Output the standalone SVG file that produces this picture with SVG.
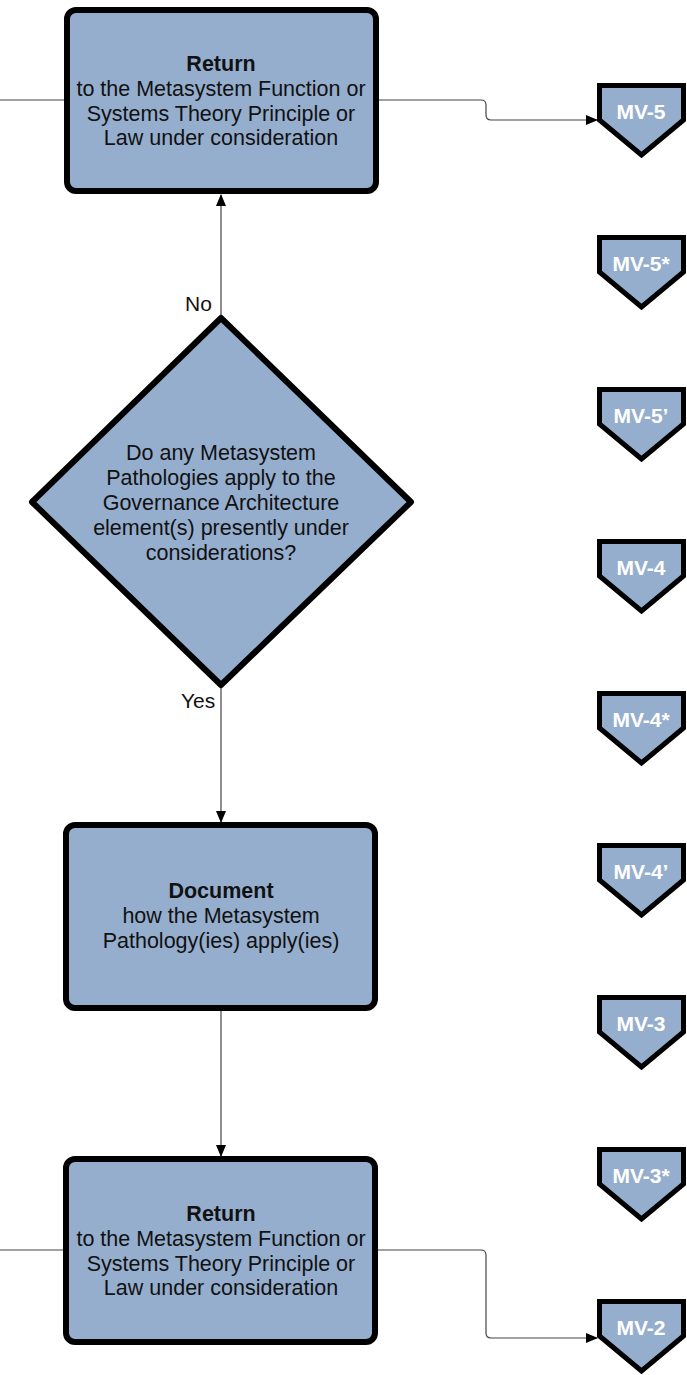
<svg xmlns="http://www.w3.org/2000/svg" width="687" height="1375" viewBox="0 0 687 1375">
<style>
.box{fill:#95AECE;stroke:#000;stroke-width:6;stroke-linejoin:round}
.pent{fill:#95AECE;stroke:#000;stroke-width:5;stroke-linejoin:miter}
.t{font-family:"Liberation Sans",Arial,sans-serif;font-size:21.5px;fill:#111;text-anchor:middle}
.b{font-weight:bold}
.mv{font-family:"Liberation Sans",Arial,sans-serif;font-size:21px;font-weight:bold;fill:#fff;text-anchor:middle}
.c{fill:none;stroke:#444;stroke-width:1.2}
.lbl{font-family:"Liberation Sans",Arial,sans-serif;font-size:21px;fill:#111}
</style>
<defs>
<marker id="ah" markerWidth="12" markerHeight="10" refX="11" refY="5" orient="auto" markerUnits="userSpaceOnUse">
<path d="M0,0 L12,5 L0,10 Z" fill="#000"/>
</marker>
</defs>
<g id="connectors">
<path class="c" d="M0,100 L64,100"/>
<path class="c" d="M379,100 L481,100 Q486,100 486,105 L486,115 Q486,120 491,120 L597,120" marker-end="url(#ah)"/>
<path class="c" d="M221,315 L221,195" marker-end="url(#ah)"/>
<path class="c" d="M221,688 L221,822" marker-end="url(#ah)"/>
<path class="c" d="M221,1011 L221,1156" marker-end="url(#ah)"/>
<path class="c" d="M0,1250 L63,1250"/>
<path class="c" d="M378,1250 L481,1250 Q486,1250 486,1255 L486,1333 Q486,1338 491,1338 L597,1338" marker-end="url(#ah)"/>
<text class="lbl" x="185" y="311">No</text>
<text class="lbl" x="181" y="708">Yes</text>
</g>
<g id="return-top">
<rect class="box" x="67" y="10" width="309" height="181" rx="9"/>
<text class="t b" x="221" y="71">Return</text>
<text class="t" x="221" y="96">to the Metasystem Function or</text>
<text class="t" x="221" y="120.5">Systems Theory Principle or</text>
<text class="t" x="221" y="145">Law under consideration</text>
</g>
<g id="decision">
<polygon class="box" points="221,318 411,502 221,685 32,502"/>
<text class="t" x="221" y="460">Do any Metasystem</text>
<text class="t" x="221" y="485">Pathologies apply to the</text>
<text class="t" x="221" y="510">Governance Architecture</text>
<text class="t" x="221" y="535">element(s) presently under</text>
<text class="t" x="221" y="560">considerations?</text>
</g>
<g id="document">
<rect class="box" x="66" y="825" width="309" height="183" rx="9"/>
<text class="t b" x="221" y="898">Document</text>
<text class="t" x="221" y="923">how the Metasystem</text>
<text class="t" x="221" y="948">Pathology(ies) apply(ies)</text>
</g>
<g id="return-bottom">
<rect class="box" x="66" y="1159" width="309" height="183" rx="9"/>
<text class="t b" x="221" y="1221">Return</text>
<text class="t" x="221" y="1246">to the Metasystem Function or</text>
<text class="t" x="221" y="1270.5">Systems Theory Principle or</text>
<text class="t" x="221" y="1295">Law under consideration</text>
</g>
<g id="mv-5"><path class="pent" d="M599.5,85.5 H683.5 V120 L641.5,155 L599.5,120 Z"/><text class="mv" x="641" y="119">MV-5</text></g>
<g id="mv-5s"><path class="pent" d="M599.5,237.5 H683.5 V272 L641.5,307 L599.5,272 Z"/><text class="mv" x="641" y="271">MV-5*</text></g>
<g id="mv-5p"><path class="pent" d="M599.5,389.5 H683.5 V424 L641.5,459 L599.5,424 Z"/><text class="mv" x="641" y="423">MV-5’</text></g>
<g id="mv-4"><path class="pent" d="M599.5,541.5 H683.5 V576 L641.5,611 L599.5,576 Z"/><text class="mv" x="641" y="575">MV-4</text></g>
<g id="mv-4s"><path class="pent" d="M599.5,693.5 H683.5 V728 L641.5,763 L599.5,728 Z"/><text class="mv" x="641" y="727">MV-4*</text></g>
<g id="mv-4p"><path class="pent" d="M599.5,845.5 H683.5 V880 L641.5,915 L599.5,880 Z"/><text class="mv" x="641" y="879">MV-4’</text></g>
<g id="mv-3"><path class="pent" d="M599.5,997.5 H683.5 V1032 L641.5,1067 L599.5,1032 Z"/><text class="mv" x="641" y="1031">MV-3</text></g>
<g id="mv-3s"><path class="pent" d="M599.5,1149.5 H683.5 V1184 L641.5,1219 L599.5,1184 Z"/><text class="mv" x="641" y="1183">MV-3*</text></g>
<g id="mv-2"><path class="pent" d="M599.5,1301.5 H683.5 V1336 L641.5,1371 L599.5,1336 Z"/><text class="mv" x="641" y="1335">MV-2</text></g>
</svg>
